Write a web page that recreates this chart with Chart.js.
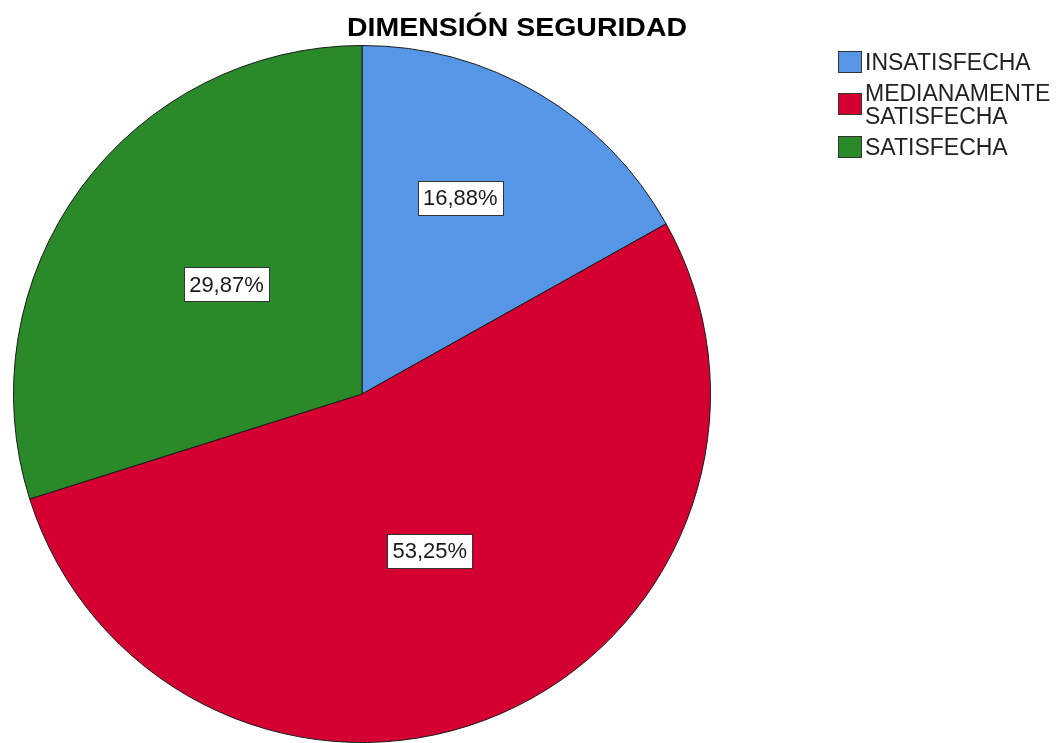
<!DOCTYPE html>
<html>
<head>
<meta charset="utf-8">
<title>Dimensión Seguridad</title>
<script src="https://cdn.jsdelivr.net/npm/chart.js@4/dist/chart.umd.min.js"></script>
<style>
    html, body { margin: 0; padding: 0; background: #fff; }
    #wrap { position: relative; width: 1063px; height: 743px; }
</style>
</head>
<body>
<div id="wrap">
    <canvas id="pieChart" width="1063" height="743"></canvas>
</div>
<script>
// Datos del gráfico
const chartTitle = 'DIMENSIÓN SEGURIDAD';
const categories = [['INSATISFECHA'], ['MEDIANAMENTE', 'SATISFECHA'], ['SATISFECHA']];
const percentages = [16.88, 53.25, 29.87];
const percentLabels = ['16,88%', '53,25%', '29,87%'];
const sliceColors = ['#5696e6', '#d50032', '#2a8a2a'];

// Posición de las etiquetas dentro de cada porción (fracción del radio, ajuste de ángulo en grados)
const LABEL_RADIUS = [0.63, 0.49, 0.50];
const LABEL_ANGLE_SHIFT = [-3.8, 0, 2.7];
const FONT = "'Liberation Sans', Arial, sans-serif";

/**
 * Dibuja etiquetas de porcentaje, título y leyenda
 */
const spssDecor = {
    id: 'spssDecor',
    afterDatasetsDraw(chart) {
        const ctx = chart.ctx;
        const meta = chart.getDatasetMeta(0);

        // Etiquetas con caja blanca
        ctx.save();
        ctx.font = '22px ' + FONT;
        ctx.textAlign = 'center';
        ctx.textBaseline = 'middle';
        meta.data.forEach((arc, i) => {
            const p = arc.getProps(['x', 'y', 'startAngle', 'endAngle', 'outerRadius'], true);
            const mid = (p.startAngle + p.endAngle) / 2 + LABEL_ANGLE_SHIFT[i] * Math.PI / 180;
            const r = p.outerRadius * LABEL_RADIUS[i];
            const cx = p.x + Math.cos(mid) * r;
            const cy = p.y + Math.sin(mid) * r;
            const text = percentLabels[i];
            const w = Math.round(ctx.measureText(text).width + 10);
            const h = 34;
            const bx = Math.round(cx - w / 2) + 0.5;
            const by = Math.round(cy - h / 2) + 0.5;
            ctx.fillStyle = '#ffffff';
            ctx.fillRect(bx, by, w, h);
            ctx.strokeStyle = '#333333';
            ctx.lineWidth = 1;
            ctx.strokeRect(bx, by, w, h);
            ctx.fillStyle = '#1a1a1a';
            ctx.fillText(text, cx, cy + 1);
        });
        ctx.restore();

        // Título (un poco ensanchado, como en SPSS)
        ctx.save();
        ctx.font = 'bold 26px ' + FONT;
        ctx.fillStyle = '#000000';
        ctx.textAlign = 'center';
        ctx.textBaseline = 'alphabetic';
        ctx.translate(517, 36);
        ctx.scale(1.095, 1);
        ctx.fillText(chartTitle, 0, 0);
        ctx.restore();

        // Leyenda
        ctx.save();
        ctx.font = '23px ' + FONT;
        ctx.textAlign = 'left';
        ctx.textBaseline = 'alphabetic';
        const colors = chart.data.datasets[0].backgroundColor;
        const lineH = 23;
        const capH = 16.5;
        let capTop = 53;
        chart.data.labels.forEach((lab, i) => {
            const lines = Array.isArray(lab) ? lab : [lab];
            const blockMid = capTop + ((lines.length - 1) * lineH + capH) / 2;
            const sy = Math.round(blockMid - 10.5) + 0.5;
            ctx.fillStyle = colors[i];
            ctx.fillRect(838.5, sy, 23, 21);
            ctx.strokeStyle = '#333333';
            ctx.lineWidth = 1;
            ctx.strokeRect(838.5, sy, 23, 21);
            ctx.fillStyle = '#222222';
            lines.forEach((line, j) => {
                ctx.fillText(line, 865, capTop + capH + j * lineH);
            });
            capTop += lines.length * lineH + 8;
        });
        ctx.restore();
    }
};

/**
 * Crea el gráfico de pastel
 */
function init() {
    const ctx = document.getElementById('pieChart');
    new Chart(ctx, {
        type: 'pie',
        data: {
            labels: categories,
            datasets: [{
                data: percentages,
                backgroundColor: sliceColors,
                borderColor: '#1a1a1a',
                borderWidth: 1,
                hoverOffset: 0,
                offset: 0
            }]
        },
        options: {
            responsive: false,
            animation: false,
            layout: {
                padding: { left: 13, right: 352, top: 45, bottom: 0 }
            },
            plugins: {
                legend: { display: false },
                title: { display: false },
                tooltip: { enabled: false }
            }
        },
        plugins: [spssDecor]
    });
}

init();
</script>
</body>
</html>
